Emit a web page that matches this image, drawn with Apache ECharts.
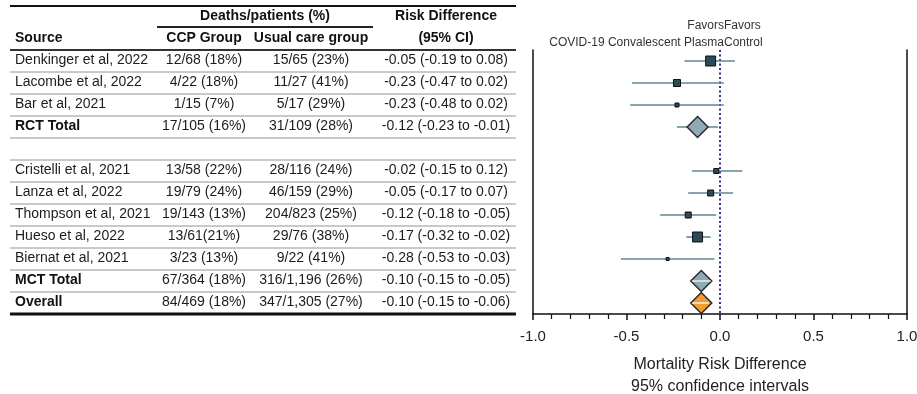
<!DOCTYPE html>
<html>
<head>
<meta charset="utf-8">
<script src="https://cdn.jsdelivr.net/npm/echarts@6/dist/echarts.min.js"></script>
<style>
  html, body { margin: 0; padding: 0; background: #fff; }
  #chart { width: 917px; height: 394px; }
</style>
</head>
<body>
<div id="chart"></div>
<script>
// ---- Table content (one entry per row; empty strings mark the spacer row) ----
const sources = ['Denkinger et al, 2022', 'Lacombe et al, 2022', 'Bar et al, 2021', 'RCT Total', '',
  'Cristelli et al, 2021', 'Lanza et al, 2022', 'Thompson et al, 2021', 'Hueso et al, 2022',
  'Biernat et al, 2021', 'MCT Total', 'Overall'];
const ccpGroup = ['12/68 (18%)', '4/22 (18%)', '1/15 (7%)', '17/105 (16%)', '',
  '13/58 (22%)', '19/79 (24%)', '19/143 (13%)', '13/61(21%)', '3/23 (13%)', '67/364 (18%)', '84/469 (18%)'];
const usualCare = ['15/65 (23%)', '11/27 (41%)', '5/17 (29%)', '31/109 (28%)', '',
  '28/116 (24%)', '46/159 (29%)', '204/823 (25%)', '29/76 (38%)', '9/22 (41%)', '316/1,196 (26%)', '347/1,305 (27%)'];
const riskDiff = ['-0.05 (-0.19 to 0.08)', '-0.23 (-0.47 to 0.02)', '-0.23 (-0.48 to 0.02)', '-0.12 (-0.23 to -0.01)', '',
  '-0.02 (-0.15 to 0.12)', '-0.05 (-0.17 to 0.07)', '-0.12 (-0.18 to -0.05)', '-0.17 (-0.32 to -0.02)',
  '-0.28 (-0.53 to -0.03)', '-0.10 (-0.15 to -0.05)', '-0.10 (-0.15 to -0.06)'];
const boldRows = [3, 10, 11];

// ---- Forest plot: individual studies (row = plot row) ----
const studyRow = [0, 1, 2, 5, 6, 7, 8, 9];
const studyEst = [-0.05, -0.23, -0.23, -0.02, -0.05, -0.17, -0.12, -0.28];
const studyLo  = [-0.19, -0.47, -0.48, -0.15, -0.17, -0.32, -0.18, -0.53];
const studyHi  = [0.08, 0.02, 0.02, 0.12, 0.07, -0.02, -0.05, -0.03];

// ---- Forest plot: pooled estimates ----
const summaryRow = [3, 10, 11];
const summaryEst = [-0.12, -0.10, -0.10];
const summaryLo  = [-0.23, -0.15, -0.15];
const summaryHi  = [-0.01, -0.05, -0.06];

// ---- Axis ticks ----
const xTicks = [-1.0, -0.5, 0.0, 0.5, 1.0];

// marker sizes (px) for the study boxes, and diamond fills
const boxSize = [10, 7, 4, 5, 6, 6, 10, 3];
const diamondFill = ['#8faab6', '#8faab6', '#f39b2e'];

const FONT = '"Liberation Sans", Arial, sans-serif';
const chart = echarts.init(document.getElementById('chart'));

function ciRender(color, width) {
  return function (params, api) {
    const a = api.coord([api.value(0), api.value(2)]);
    const b = api.coord([api.value(1), api.value(2)]);
    return {
      type: 'line',
      shape: { x1: a[0], y1: a[1], x2: b[0], y2: b[1] },
      style: { stroke: color, lineWidth: width }
    };
  };
}

const yAxisBase = {
  type: 'value', inverse: true, min: -0.5, max: 11.5,
  axisLine: { show: true, onZero: false, lineStyle: { color: '#111', width: 1.5 } },
  axisTick: { show: false }, axisLabel: { show: false }, splitLine: { show: false }
};

chart.setOption({
  animation: false,
  grid: { left: 533, right: 10, top: 50, bottom: 80, containLabel: false, outerBoundsMode: 'none' },
  xAxis: {
    type: 'value', min: xTicks[0], max: xTicks[xTicks.length - 1], interval: 0.5,
    axisLine: { onZero: false, lineStyle: { color: '#111', width: 1.5 } },
    axisTick: { length: 6, lineStyle: { color: '#111', width: 1.5 } },
    minorTick: { show: true, splitNumber: 5, length: 5, lineStyle: { color: '#111', width: 1.2 } },
    splitLine: { show: false },
    axisLabel: { formatter: v => v.toFixed(1), fontSize: 15, fontFamily: FONT, color: '#222', margin: 15 },
    name: 'Mortality Risk Difference\n95% confidence intervals',
    nameLocation: 'middle', nameGap: 40,
    nameTextStyle: { fontSize: 16, fontFamily: FONT, color: '#222', lineHeight: 22 }
  },
  yAxis: [Object.assign({ position: 'left' }, yAxisBase), Object.assign({ position: 'right' }, yAxisBase)],
  series: [
    {
      type: 'custom', name: 'ci', z: 2,
      renderItem: ciRender('#5f8794', 1.6),
      encode: { x: [0, 1], y: 2 },
      data: studyRow.map((r, i) => [studyLo[i], studyHi[i], r])
        .concat([[summaryLo[0], summaryHi[0], summaryRow[0]]])
    },
    {
      type: 'scatter', name: 'studies', z: 3, symbol: 'rect',
      itemStyle: { color: '#2c4b58', borderColor: '#111', borderWidth: 1, opacity: 1 },
      data: studyRow.map((r, i) => ({ value: [studyEst[i], r], symbolSize: boxSize[i] })),
      markLine: {
        silent: true, symbol: 'none', z: 1,
        label: { show: false },
        lineStyle: { type: [2, 2.5], color: '#2f2f8f', width: 2 },
        data: [{ xAxis: 0 }]
      }
    },
    {
      type: 'scatter', name: 'pooled', z: 4, symbol: 'diamond', symbolSize: 21,
      data: summaryRow.map((r, i) => ({
        value: [summaryEst[i], r],
        itemStyle: { color: diamondFill[i], borderColor: '#2a2a2a', borderWidth: 1.5, opacity: 1 }
      }))
    },
    {
      type: 'custom', name: 'ciInner', z: 5,
      renderItem: ciRender('#eef3f5', 1.4),
      encode: { x: [0, 1], y: 2 },
      data: [1, 2].map(i => [summaryLo[i], summaryHi[i], summaryRow[i]])
    }
  ]
});

// ---- Table and annotations, placed on the same row scale as the plot ----
const rowY = r => chart.convertToPixel({ yAxisIndex: 0 }, r);
const zeroX = chart.convertToPixel({ xAxisIndex: 0 }, 0);
const g = [];

function txt(text, x, y, opts) {
  g.push({
    type: 'text', x: x, y: y, silent: true,
    style: Object.assign({
      text: text, font: '14px ' + FONT, fill: '#1c1c1c', align: 'left', verticalAlign: 'middle'
    }, opts || {})
  });
}
function hline(x1, x2, y, color, width) {
  g.push({ type: 'line', silent: true, shape: { x1: x1, y1: y, x2: x2, y2: y },
    style: { stroke: color, lineWidth: width } });
}

const colSource = 15, colCcp = 204, colUsual = 311, colRd = 446;
const tableL = 10, tableR = 516;
const bold = 'bold 14px ' + FONT;

// header
hline(tableL, tableR, 6, '#111', 2);
txt('Deaths/patients (%)', 265, 16, { font: bold, align: 'center', fill: '#111' });
txt('Risk Difference', colRd, 16, { font: bold, align: 'center', fill: '#111' });
hline(157, 373, 27, '#222', 1.8);
txt('Source', colSource, 38, { font: bold, fill: '#111' });
txt('CCP Group', colCcp, 38, { font: bold, align: 'center', fill: '#111' });
txt('Usual care group', colUsual, 38, { font: bold, align: 'center', fill: '#111' });
txt('(95% CI)', colRd, 38, { font: bold, align: 'center', fill: '#111' });
hline(tableL, tableR, rowY(-0.5), '#333', 2);

// body rows
sources.forEach((s, r) => {
  if (!s) return;
  const y = rowY(r) - 1;
  const isBold = boldRows.indexOf(r) >= 0;
  txt(s, colSource, y, isBold ? { font: bold, fill: '#111' } : {});
  txt(ccpGroup[r], colCcp, y, { align: 'center' });
  txt(usualCare[r], colUsual, y, { align: 'center' });
  txt(riskDiff[r], colRd, y, { align: 'center' });
});
for (let r = 0; r < sources.length - 1; r++) {
  hline(tableL, tableR, rowY(r + 0.5), '#c9c9c9', 2);
}
hline(tableL, tableR, rowY(sources.length - 0.5), '#111', 3);

// direction labels above the plot
const small = '12px ' + FONT;
txt('Favors', zeroX + 4, 26, { font: small, align: 'right', fill: '#333' });
txt('Favors', zeroX + 4, 26, { font: small, align: 'left', fill: '#333' });
txt('COVID-19 Convalescent Plasma', zeroX + 4, 43, { font: small, align: 'right', fill: '#333' });
txt('Control', zeroX + 4, 43, { font: small, align: 'left', fill: '#333' });

chart.setOption({ graphic: { elements: g } });
</script>
</body>
</html>
